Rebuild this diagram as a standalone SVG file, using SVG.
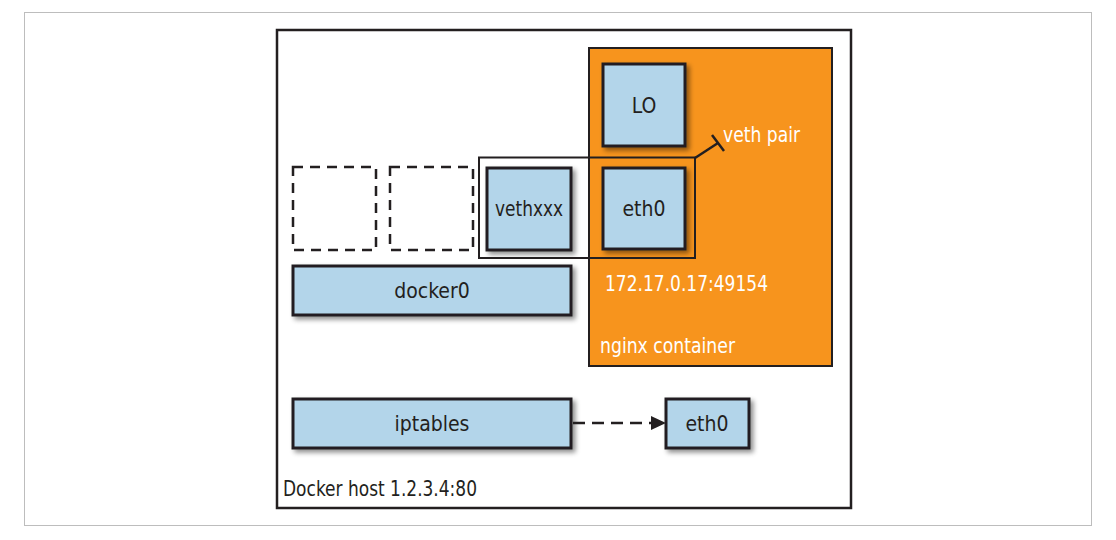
<svg xmlns="http://www.w3.org/2000/svg" width="1116" height="540" viewBox="0 0 1116 540">
<defs>
<style>
.t{font-family:"DejaVu Sans Condensed","Liberation Sans Narrow","Liberation Sans",sans-serif;font-size:21px;fill:#231f20;text-anchor:middle}
.w{font-family:"DejaVu Sans Condensed","Liberation Sans Narrow","Liberation Sans",sans-serif;font-size:21px;fill:#ffffff}
.b{fill:#b3d5ea;stroke:#231f20;stroke-width:3;filter:url(#sh)}
.d{fill:none;stroke:#231f20;stroke-width:2.5;stroke-dasharray:10 7}
</style>
<filter id="sh" x="-20%" y="-20%" width="150%" height="150%">
<feGaussianBlur in="SourceAlpha" stdDeviation="2.5"/>
<feOffset dx="3" dy="3" result="o"/>
<feComponentTransfer><feFuncA type="linear" slope="0.45"/></feComponentTransfer>
<feMerge><feMergeNode/><feMergeNode in="SourceGraphic"/></feMerge>
</filter>
<marker id="ah" markerWidth="16" markerHeight="14" refX="15" refY="7" orient="auto" markerUnits="userSpaceOnUse">
<path d="M0,0 L15,7 L0,14 Z" fill="#231f20"/>
</marker>
</defs>
<rect x="0" y="0" width="1116" height="540" fill="#ffffff"/>
<rect x="24.5" y="12.5" width="1067" height="513" fill="none" stroke="#bdbdbd" stroke-width="1"/>
<g id="host">
<rect x="277" y="30" width="574" height="478" fill="#ffffff" stroke="#231f20" stroke-width="2.5"/>
<text class="t" x="283" y="496" style="text-anchor:start" textLength="194" lengthAdjust="spacingAndGlyphs">Docker host 1.2.3.4:80</text>
</g>
<g id="container">
<rect x="589" y="48" width="243" height="318" fill="#f7941d" stroke="#231f20" stroke-width="2"/>
<text class="w" x="605" y="291" textLength="163" lengthAdjust="spacingAndGlyphs">172.17.0.17:49154</text>
<text class="w" x="600" y="353" textLength="135" lengthAdjust="spacingAndGlyphs">nginx container</text>
</g>
<g id="dash1"><rect class="d" x="293" y="167" width="83" height="83"/></g>
<g id="dash2"><rect class="d" x="390" y="167" width="83" height="83"/></g>
<g id="lo"><rect class="b" x="603" y="64" width="82" height="82"/><text class="t" x="644" y="113">LO</text></g>
<g id="eth0c"><rect class="b" x="603" y="168" width="82" height="81"/><text class="t" x="644" y="216">eth0</text></g>
<g id="vethxxx"><rect class="b" x="487" y="168" width="84" height="82"/><text class="t" x="529" y="216" textLength="68" lengthAdjust="spacingAndGlyphs">vethxxx</text></g>
<g id="docker0"><rect class="b" x="293" y="266" width="278" height="49"/><text class="t" x="432" y="298">docker0</text></g>
<g id="iptables"><rect class="b" x="293" y="399" width="278" height="49"/><text class="t" x="432" y="431">iptables</text></g>
<g id="eth0h"><rect class="b" x="666" y="399" width="83" height="49"/><text class="t" x="707" y="431">eth0</text></g>
<g id="vethpair">
<rect x="479" y="157.5" width="216" height="100.5" fill="none" stroke="#231f20" stroke-width="2"/>
<text class="w" x="723" y="142" style="text-anchor:start" textLength="77" lengthAdjust="spacingAndGlyphs">veth pair</text>
</g>
<g id="connectors">
<path d="M695,158 L718,143" stroke="#231f20" stroke-width="2.5" fill="none"/>
<path d="M712,135 L724,151" stroke="#231f20" stroke-width="2.5" fill="none"/>
<path d="M573,423 L666,423" stroke="#231f20" stroke-width="2.5" stroke-dasharray="12 7" fill="none" marker-end="url(#ah)"/>
</g>
</svg>
